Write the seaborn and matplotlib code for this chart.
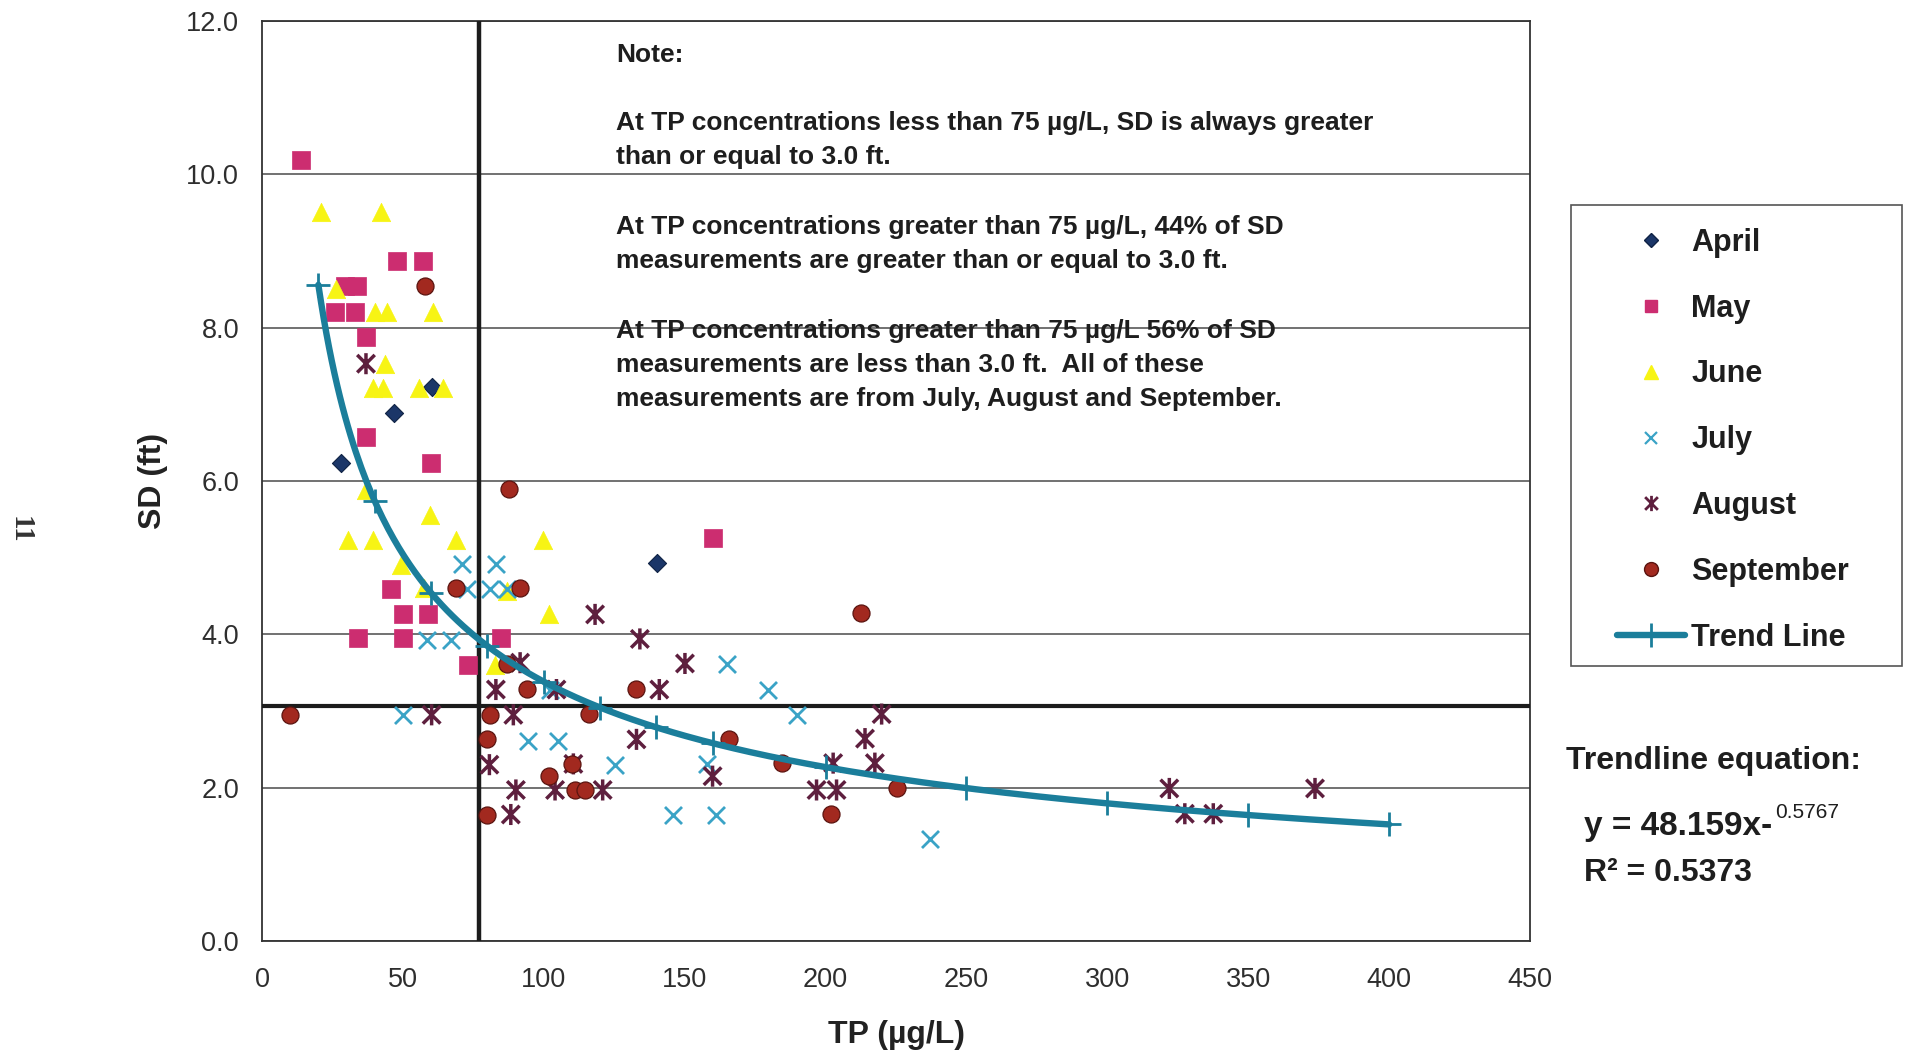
import matplotlib
matplotlib.use("Agg")
import numpy as np
import pandas as pd
import matplotlib.pyplot as plt
import seaborn as sns
from matplotlib.path import Path
from matplotlib.lines import Line2D
from matplotlib.patches import Rectangle
from matplotlib import font_manager

# ---------------------------------------------------------------------------
# Monthly Secchi depth (SD, ft) versus total phosphorus (TP, ug/L)
# ---------------------------------------------------------------------------
april_tp = [28.0, 46.9, 60.4, 140.1]
april_sd = [6.24, 6.89, 7.23, 4.93]

may_tp = [13.7, 47.8, 57.0, 29.5, 33.6, 25.9, 33.0, 36.9, 36.9, 60.0,
          45.8, 49.9, 59.0, 34.2, 49.9, 84.8, 73.2, 159.9]
may_sd = [10.19, 8.87, 8.87, 8.54, 8.54, 8.21, 8.21, 7.88, 6.57, 6.24,
          4.59, 4.27, 4.27, 3.95, 3.95, 3.95, 3.60, 5.26]

june_tp = [20.8, 42.1, 26.3, 40.1, 44.3, 60.8, 43.6, 39.5, 42.8, 55.8, 64.3,
           36.9, 59.6, 30.6, 39.5, 68.8, 99.6, 49.3, 57.5, 86.8, 101.9, 82.7]
june_sd = [9.51, 9.51, 8.51, 8.21, 8.21, 8.21, 7.53, 7.21, 7.21, 7.21, 7.21,
           5.88, 5.56, 5.23, 5.23, 5.23, 5.23, 4.90, 4.60, 4.57, 4.27, 3.60]

july_tp = [70.9, 83.0, 72.6, 80.9, 86.8, 58.4, 67.0, 164.9, 102.2, 179.6,
           189.7, 50.1, 94.5, 105.1, 125.3, 157.8, 146.0, 161.1, 237.0]
july_sd = [4.92, 4.92, 4.59, 4.59, 4.59, 3.93, 3.93, 3.61, 3.28, 3.28,
           2.95, 2.95, 2.61, 2.61, 2.30, 2.31, 1.64, 1.64, 1.33]

august_tp = [36.9, 60.2, 89.2, 118.2, 134.1, 91.6, 150.1, 83.0, 104.5, 141.0,
             219.9, 132.9, 214.0, 80.7, 110.5, 159.9, 202.7, 217.5, 90.1,
             104.0, 120.9, 196.8, 203.9, 88.3, 322.0, 327.5, 337.6, 373.7]
august_sd = [7.53, 2.95, 2.95, 4.26, 3.94, 3.63, 3.62, 3.28, 3.28, 3.28,
             2.96, 2.63, 2.64, 2.30, 2.31, 2.15, 2.32, 2.32, 1.97,
             1.97, 1.97, 1.97, 1.97, 1.65, 1.99, 1.66, 1.66, 1.99]

september_tp = [57.8, 87.8, 68.8, 91.6, 212.6, 86.8, 93.9, 132.9, 10.0, 80.9,
                116.2, 79.7, 165.8, 109.9, 184.4, 101.9, 111.1, 114.6, 225.5,
                80.0, 201.8]
september_sd = [8.54, 5.90, 4.60, 4.60, 4.28, 3.61, 3.29, 3.29, 2.95, 2.95,
                2.96, 2.63, 2.64, 2.31, 2.32, 2.15, 1.97, 1.97, 1.99,
                1.65, 1.66]

# Power-law trend line y = a * x^b (coefficients as printed on the chart)
trend_a = 48.159
trend_b = -0.5767
trend_r2 = 0.5373
trend_marker_tp = [20, 40, 60, 80, 100, 120, 140, 160, 200, 250, 300, 350, 400]

# Reference thresholds
tp_threshold = 77.0
sd_threshold = 3.06

# Axis ticks
x_ticks = [0, 50, 100, 150, 200, 250, 300, 350, 400, 450]
y_ticks = [0, 2, 4, 6, 8, 10, 12]
y_tick_labels = ["0.0", "2.0", "4.0", "6.0", "8.0", "10.0", "12.0"]

note_lines = [
    "Note:",
    "At TP concentrations less than 75 \u00b5g/L, SD is always greater",
    "than or equal to 3.0 ft.",
    "At TP concentrations greater than 75 \u00b5g/L, 44% of SD",
    "measurements are greater than or equal to 3.0 ft.",
    "At TP concentrations greater than 75 \u00b5g/L 56% of SD",
    "measurements are less than 3.0 ft.  All of these",
    "measurements are from July, August and September.",
]

# ---------------------------------------------------------------------------
sns.set_theme(style="white")
plt.rcParams["font.family"] = ["Liberation Sans", "DejaVu Sans"]

W, H = 1914, 1055
fig = plt.figure(figsize=(W / 100, H / 100), dpi=100)
fig.patch.set_facecolor("white")


def fx(px):
    return px / W


def fy(py):
    return 1 - py / H


ax = fig.add_axes([fx(262), fy(941), (1530 - 262) / W, (941 - 21) / H])
ax.set_facecolor("white")

# Excel-style asterisk: an X crossed by a vertical stroke
asterisk = Path(
    [(-1, -1), (1, 1), (-1, 1), (1, -1), (0, -1.2), (0, 1.2)],
    [Path.MOVETO, Path.LINETO, Path.MOVETO, Path.LINETO, Path.MOVETO, Path.LINETO],
)

col_april = "#1B3668"
col_may = "#CC2D70"
col_june = "#F7F414"
col_july = "#3AA3C6"
col_aug = "#5E1F3E"
col_sep = "#A2291F"
col_trend = "#1B7E9B"

series = [
    ("April", april_tp, april_sd, dict(marker="D", s=85, color=col_april,
                                       edgecolor="#0f2244", linewidth=0.8)),
    ("May", may_tp, may_sd, dict(marker="s", s=150, color=col_may,
                                 edgecolor=col_may, linewidth=0.5)),
    ("June", june_tp, june_sd, dict(marker="^", s=175, color=col_june,
                                    edgecolor=col_june, linewidth=0.5)),
    ("July", july_tp, july_sd, dict(marker="x", s=150, color=col_july,
                                    linewidth=2.0)),
    ("August", august_tp, august_sd, dict(marker=asterisk, s=230,
                                          facecolor="none", edgecolor=col_aug,
                                          linewidth=2.5)),
    ("September", september_tp, september_sd, dict(marker="o", s=150,
                                                   color=col_sep,
                                                   edgecolor="#5a1410",
                                                   linewidth=0.9)),
]

for name, tp, sd, style in series:
    df = pd.DataFrame({"TP": tp, "SD": sd})
    sns.scatterplot(data=df, x="TP", y="SD", ax=ax, zorder=4, legend=False,
                    **style)

# Trend line drawn from the stated power equation
tp_curve = np.linspace(trend_marker_tp[0], trend_marker_tp[-1], 400)
sd_curve = trend_a * tp_curve ** trend_b
sns.lineplot(x=tp_curve, y=sd_curve, ax=ax, color=col_trend, linewidth=4.6,
             zorder=5, legend=False, sort=False)
tm = np.array(trend_marker_tp, dtype=float)
ax.plot(tm, trend_a * tm ** trend_b, linestyle="none", marker="+",
        markersize=17, markeredgewidth=2.0, color=col_trend, zorder=6)

# Threshold lines
ax.axvline(tp_threshold, color="#1c1c1c", linewidth=3.2, zorder=3)
ax.axhline(sd_threshold, color="#1c1c1c", linewidth=3.0, zorder=3)

# Axes styling
ax.set_xlim(0, 450)
ax.set_ylim(0, 12)
ax.set_xticks(x_ticks)
ax.set_xticklabels([str(v) for v in x_ticks])
ax.set_yticks(y_ticks)
ax.set_yticklabels(y_tick_labels)
ax.yaxis.grid(True, color="#4a4a4a", linewidth=1.1, zorder=1)
ax.xaxis.grid(False)
ax.set_axisbelow(True)
for sp in ax.spines.values():
    sp.set_visible(True)
    sp.set_color("#333333")
    sp.set_linewidth(1.3)
ax.tick_params(axis="y", direction="out", length=6.5, width=1.0, color="#333333",
               pad=10, labelsize=19.5, labelcolor="#2e2e2e")
ax.tick_params(axis="x", direction="out", length=4, width=1.0, color="#555555",
               pad=15, labelsize=19.5, labelcolor="#2e2e2e")

ax.set_xlabel("TP (\u00b5g/L)", fontsize=23, fontweight="bold", color="#222222")
ax.set_ylabel("SD (ft)", fontsize=23, fontweight="bold", color="#222222")
ax.xaxis.set_label_coords(0.5, (941 - 1035) / 920)
ax.xaxis.label.set_va("center")
ax.yaxis.set_label_coords((153 - 262) / 1268, 0.5)
ax.yaxis.label.set_va("center")

# Note block
names = {f.name for f in font_manager.fontManager.ttflist}
if "Liberation Sans Narrow" in names:
    note_family = ["Liberation Sans Narrow", "Liberation Sans", "DejaVu Sans"]
    note_size = 22
else:
    note_family = ["Liberation Sans", "DejaVu Sans"]
    note_size = 19
note_y = [55, 123, 157.5, 227, 261, 331, 365, 399]
for line, py in zip(note_lines, note_y):
    fig.text(fx(616.5), fy(py), line, ha="left", va="center",
             fontsize=note_size, fontweight="bold", family=note_family,
             color="#1e1e1e")

# Legend box and entries
fig.patches.append(Rectangle((fx(1571), fy(666)), (1902 - 1571) / W,
                             (666 - 205) / H, transform=fig.transFigure,
                             fill=False, edgecolor="#555555", linewidth=1.2))
handles = [
    Line2D([], [], linestyle="none", marker="D", markersize=7,
           color=col_april, markeredgecolor="#0f2244"),
    Line2D([], [], linestyle="none", marker="s", markersize=9, color=col_may),
    Line2D([], [], linestyle="none", marker="^", markersize=10, color=col_june),
    Line2D([], [], linestyle="none", marker="x", markersize=9,
           markeredgewidth=1.6, color=col_july),
    Line2D([], [], linestyle="none", marker=asterisk, markersize=11,
           markeredgewidth=2.0, markerfacecolor="none", markeredgecolor=col_aug),
    Line2D([], [], linestyle="none", marker="o", markersize=10, color=col_sep,
           markeredgecolor="#5a1410"),
    Line2D([], [], color=col_trend, linewidth=4.6, marker="+", markersize=17,
           markeredgewidth=2.0),
]
labels = ["April", "May", "June", "July", "August", "September", "Trend Line"]
leg = ax.legend(handles, labels, loc="upper left",
                bbox_to_anchor=(fx(1617), fy(228)), bbox_transform=fig.transFigure,
                frameon=False, borderpad=0, borderaxespad=0,
                handlelength=2.225, handletextpad=0.2, labelspacing=1.17,
                prop={"size": 22, "weight": "bold"}, labelcolor="#1e1e1e")

# Trendline equation
fig.text(fx(1566), fy(760.5), "Trendline equation:", ha="left", va="center",
         fontsize=23, fontweight="bold", color="#1e1e1e")
eq = fig.text(fx(1584.5), fy(826.5), "y = 48.159x-", ha="left", va="center",
              fontsize=24, fontweight="bold", color="#1e1e1e")
fig.canvas.draw()
bb = eq.get_window_extent()
fig.text((bb.x1 + 2) / W, fy(813), f"{-trend_b:.4f}", ha="left", va="center",
         fontsize=15, color="#1e1e1e")
fig.text(fx(1584.5), fy(873), f"R\u00b2 = {trend_r2:.4f}", ha="left",
         va="center", fontsize=23, fontweight="bold", color="#1e1e1e")

# Page number in the margin
fig.text(fx(20), fy(530), "11", rotation=270, ha="center", va="center",
         fontsize=21, fontweight="bold",
         family=["Liberation Serif", "DejaVu Serif"], color="#333333")

fig.savefig("out.png", dpi=100, facecolor="white")
